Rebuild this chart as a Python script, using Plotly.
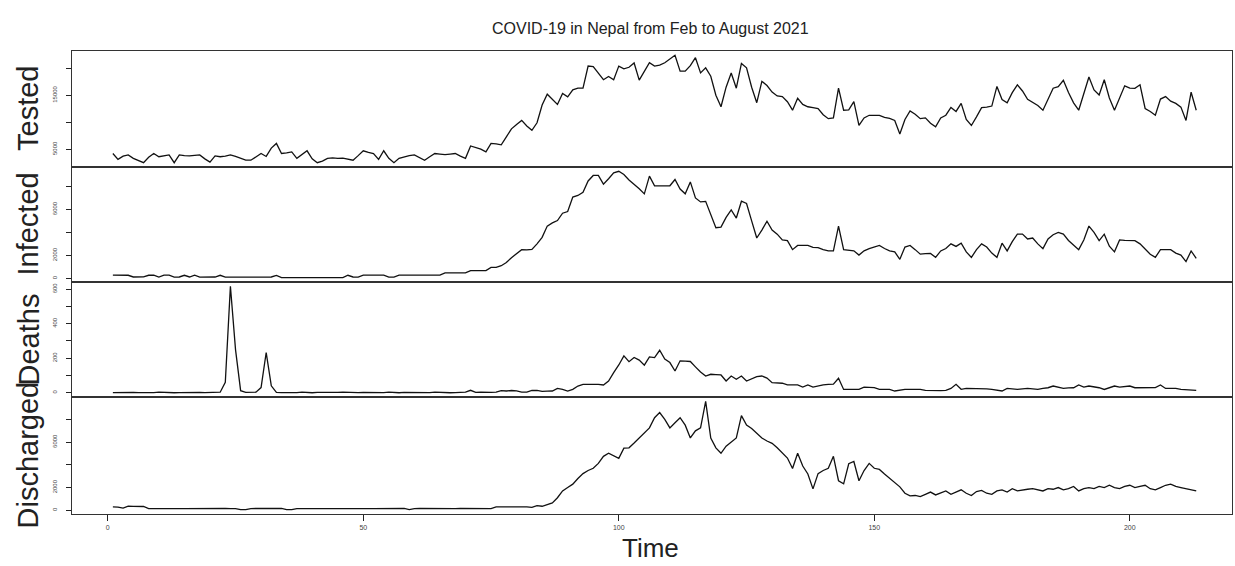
import plotly.graph_objects as go

# Day index (1 = 1 Feb 2021 ... 213 = 31 Aug 2021)
days = list(range(1, 214))

tested = [
    4190, 3110, 3700, 3930, 3300, 2900, 2490, 3500, 4190, 3600,
    3800, 3930, 2490, 3930, 3800, 3750, 3850, 3930, 3200, 2600,
    3750, 3600, 3700, 3930, 3650, 3300, 2950, 2950, 3500, 4190,
    3650, 5200, 6070, 4200, 4300, 4500, 3300, 4000, 4700, 3200,
    2490, 2800, 3300, 3400, 3300, 3350, 3100, 2950, 3800, 4700,
    4400, 4190, 3110, 4700, 3300, 2490, 3300, 3600, 3800, 3950,
    3500, 2950, 3600, 4190, 4100, 4000, 4100, 4190, 3700, 3300,
    5600, 5300, 5000, 4500, 6070, 6000, 5800, 7300, 8770, 9600,
    10340, 9300, 8500, 9900, 13200, 15200, 14300, 13300, 15320, 14700,
    16000, 16320, 16320, 20420, 20300, 19000, 17890, 18500, 17890, 20420,
    19900, 20200, 21000, 17800, 19500, 21040, 20420, 20600, 21040, 21800,
    22420, 19470, 19470, 20500, 21980, 19150, 20100, 18530, 15000, 12870,
    16500, 19150, 16320, 20900, 20100, 16500, 13620, 17590, 16800, 15600,
    14870, 14750, 13800, 12230, 14440, 13300, 12870, 12700, 12550, 11400,
    10660, 10800, 16320, 12230, 12300, 13810, 9400, 10800, 11290, 11290,
    11290, 10900, 10700, 10340, 7830, 10500, 12110, 11500, 10660, 10800,
    9800, 9150, 10800, 11300, 12740, 12000, 13490, 10500, 9400, 11000,
    12700, 12800, 13000, 16640, 14200, 13620, 15500, 16950, 15800, 14250,
    13700, 13100, 12230, 14200, 16320, 16600, 17780, 15500, 13600, 12230,
    15500, 18400, 16000, 15060, 17890, 14500, 12230, 14500, 16760, 16320,
    16300, 16950, 12550, 12000, 11290, 14300, 14750, 13900, 13500, 12800,
    10340, 15570, 12230,
]

infected = [
    290, 285, 280, 270, 120, 115, 125, 270, 280, 120,
    280, 275, 115, 120, 270, 120, 275, 115, 120, 110,
    118, 270, 110, 115, 105, 120, 112, 108, 118, 110,
    115, 120, 260, 60, 65, 55, 70, 62, 58, 66,
    60, 64, 55, 68, 62, 60, 270, 120, 115, 280,
    290, 275, 285, 280, 115, 110, 280, 285, 290, 275,
    280, 285, 290, 280, 285, 480, 470, 490, 485, 475,
    680, 670, 690, 675, 960, 950, 1100, 1380, 1800, 2164,
    2500, 2480, 2520, 3005, 3566, 4548, 4829, 5025, 5670, 5810,
    7072, 7213, 7493, 8475, 8952, 8960, 8195, 8671, 9176, 9317,
    9036, 8559, 8195, 7800, 7353, 8896, 8054, 8054, 8054, 8054,
    8600, 7774, 7353, 8391, 7000, 6652, 6700, 5500, 4408, 4464,
    5300, 5951, 5249, 6708, 6512, 5000, 3510, 4200, 4969, 4200,
    3847, 3342, 3286, 2500, 2865, 2865, 2865, 2700, 2669, 2500,
    2388, 2400, 4548, 2500, 2444, 2400, 2024, 2400, 2585, 2700,
    2865, 2600, 2400, 2304, 1659, 2725, 2865, 2500, 2108, 2150,
    2164, 1827, 2388, 2600, 3005, 2781, 3061, 2300, 1827, 2500,
    3005, 2725, 2200, 1827, 3061, 2388, 3200, 3847, 3847, 3426,
    3510, 3000, 2585, 3426, 3800, 3997, 3847, 3300, 2900, 2500,
    3342, 4548, 3997, 3286, 3847, 2800, 2304, 3342, 3300, 3286,
    3286, 3000, 2585, 2100, 1827, 2500, 2500, 2500, 2200, 2024,
    1463, 2388, 1743,
]

deaths = [
    1, 2, 1, 3, 2, 1, 0, 2, 1, 3,
    1, 2, 0, 1, 2, 1, 3, 2, 1, 2,
    1, 3, 60, 617, 250, 12, 2, 1, 3, 30,
    233, 40, 2, 1, 0, 2, 1, 3, 1, 0,
    2, 1, 1, 0, 2, 3, 1, 0, 1, 2,
    1, 0, 2, 1, 3, 1, 0, 2, 1, 1,
    0, 2, 1, 3, 1, 2, 0, 1, 2, 3,
    14, 2, 3, 1, 2, 3, 12, 10, 13, 11,
    3, 4, 13, 14, 8, 9, 10, 25, 20, 10,
    20, 39, 49, 49, 50, 49, 45, 68, 117, 161,
    214, 180, 204, 189, 160, 208, 204, 246, 195, 175,
    126, 185, 183, 181, 150, 120, 97, 107, 105, 103,
    68, 97, 78, 97, 68, 80, 93, 97, 85, 58,
    56, 55, 45, 45, 45, 33, 45, 33, 40, 45,
    49, 50, 84, 19, 20, 19, 20, 33, 33, 30,
    19, 20, 19, 10, 15, 19, 19, 20, 19, 14,
    12, 10, 12, 14, 25, 49, 20, 25, 25, 25,
    25, 22, 19, 15, 10, 25, 20, 19, 22, 25,
    22, 19, 25, 29, 39, 30, 25, 28, 29, 45,
    33, 39, 35, 29, 19, 29, 39, 33, 35, 39,
    29, 30, 29, 29, 30, 45, 25, 25, 25, 20,
    19, 14, 14,
]

discharged = [
    300, 280, 180, 350, 340, 350, 330, 150, 160, 145,
    155, 150, 160, 150, 145, 155, 150, 160, 150, 145,
    155, 150, 160, 150, 145, 50, 50, 150, 160, 150,
    145, 155, 150, 160, 50, 50, 150, 155, 145, 160,
    150, 145, 155, 150, 160, 150, 145, 155, 150, 160,
    150, 145, 155, 150, 160, 150, 145, 155, 60, 150,
    160, 150, 145, 155, 150, 160, 150, 145, 155, 150,
    160, 150, 145, 155, 150, 300, 310, 290, 300, 310,
    300, 290, 250, 400, 350, 500, 650, 1100, 1700, 2000,
    2300, 2800, 3230, 3500, 3700, 4130, 4750, 5020, 4800, 4570,
    5470, 5500, 5920, 6370, 6800, 7260, 8160, 8610, 8000, 7260,
    7710, 8160, 7500, 6370, 7000, 7260, 9600, 6370, 5500, 5020,
    5650, 6000, 6370, 8340, 7500, 7200, 6800, 6370, 6100, 5900,
    5500, 5020, 4600, 3680, 5020, 3900, 3200, 1880, 3230, 3500,
    3700, 4750, 2600, 2330, 4100, 4300, 2600, 3500, 4130, 3700,
    3600, 3200, 2800, 2400, 2060, 1500, 1260, 1300, 1200, 1400,
    1600, 1350, 1500, 1700, 1400, 1600, 1800, 1500, 1300, 1650,
    1750, 1500, 1400, 1700, 1800, 1600, 1900, 1700, 1800, 1850,
    1900, 1800, 1700, 1900, 1850, 2000, 1800, 1900, 2100, 1700,
    1900, 2000, 1900, 2100, 2000, 2200, 2000, 1900, 2100, 2200,
    2000, 2100, 2200, 1900, 1800, 2000, 2200, 2300, 2100, 2000,
    1900, 1800, 1700,
]

series = [
    ("Tested", tested, [5000, 10000, 15000, 20000], ["5000", "", "15000", ""]),
    ("Infected", infected, [0, 2000, 4000, 6000, 8000], ["0", "2000", "", "6000", ""]),
    ("Deaths", deaths, [0, 100, 200, 300, 400, 500, 600], ["0", "", "200", "", "400", "", "600"]),
    ("Discharged", discharged, [0, 2000, 4000, 6000, 8000, 10000], ["0", "2000", "", "6000", "", "10000"]),
]

x_ticks = [0, 50, 100, 150, 200]

W, H = 1235, 566
FONT = "Liberation Sans, Arial, sans-serif"
panel_px = [51, 167, 282, 397, 514]   # panel edges from the top
left_px, right_px = 72, 1232

fig = go.Figure()
annotations = []
for i, (name, vals, tvals, ttext) in enumerate(series):
    k = "" if i == 0 else str(i + 1)
    fig.add_trace(go.Scatter(
        x=days, y=vals, mode="lines",
        line=dict(color="#111111", width=1.3),
        xaxis="x" + k, yaxis="y" + k, showlegend=False, hoverinfo="skip",
    ))
    lo, hi = min(vals), max(vals)
    pad = 0.04 * (hi - lo)
    top = 1 - panel_px[i] / H
    bot = 1 - panel_px[i + 1] / H
    last = i == len(series) - 1
    fig.layout["xaxis" + k] = dict(
        domain=[left_px / W, right_px / W], anchor="y" + k,
        range=[-7, 220], showgrid=False, zeroline=False,
        showline=True, mirror=True, linecolor="#333333", linewidth=1.3,
        ticks="outside" if last else "", ticklen=6, tickwidth=1, tickcolor="#222222",
        tickvals=x_ticks if last else [], showticklabels=last,
        tickfont=dict(family=FONT, size=7, color="#444444"),
        matches=None if i == 0 else "x",
    )
    fig.layout["yaxis" + k] = dict(
        domain=[bot, top], anchor="x" + k,
        range=[lo - pad, hi + pad], showgrid=False, zeroline=False,
        showline=True, mirror=True, linecolor="#333333", linewidth=1.3,
        ticks="outside", ticklen=5, tickwidth=1, tickcolor="#222222",
        tickvals=tvals, ticktext=ttext, tickangle=-90,
        tickfont=dict(family=FONT, size=6, color="#444444"),
        ticklabelstandoff=6,
    )
    annotations.append(dict(
        text=name, xref="paper", yref="paper",
        x=28 / W, y=(top + bot) / 2, textangle=-90, showarrow=False,
        font=dict(family=FONT, size=29, color="#222222"),
        xanchor="center", yanchor="middle",
    ))

annotations.append(dict(
    text="Time", xref="paper", yref="paper", x=650 / W, y=1 - 548 / H,
    showarrow=False, font=dict(family=FONT, size=26, color="#222222"),
    xanchor="center", yanchor="middle",
))
annotations.append(dict(
    text="COVID-19 in Nepal from Feb to August 2021", xref="paper", yref="paper",
    x=650 / W, y=1 - 28 / H, showarrow=False,
    font=dict(family=FONT, size=16, color="#222222"),
    xanchor="center", yanchor="middle",
))

fig.update_layout(
    width=W, height=H, margin=dict(l=0, r=0, t=0, b=0),
    paper_bgcolor="white", plot_bgcolor="white",
    annotations=annotations,
)

fig.write_html("out.html")
